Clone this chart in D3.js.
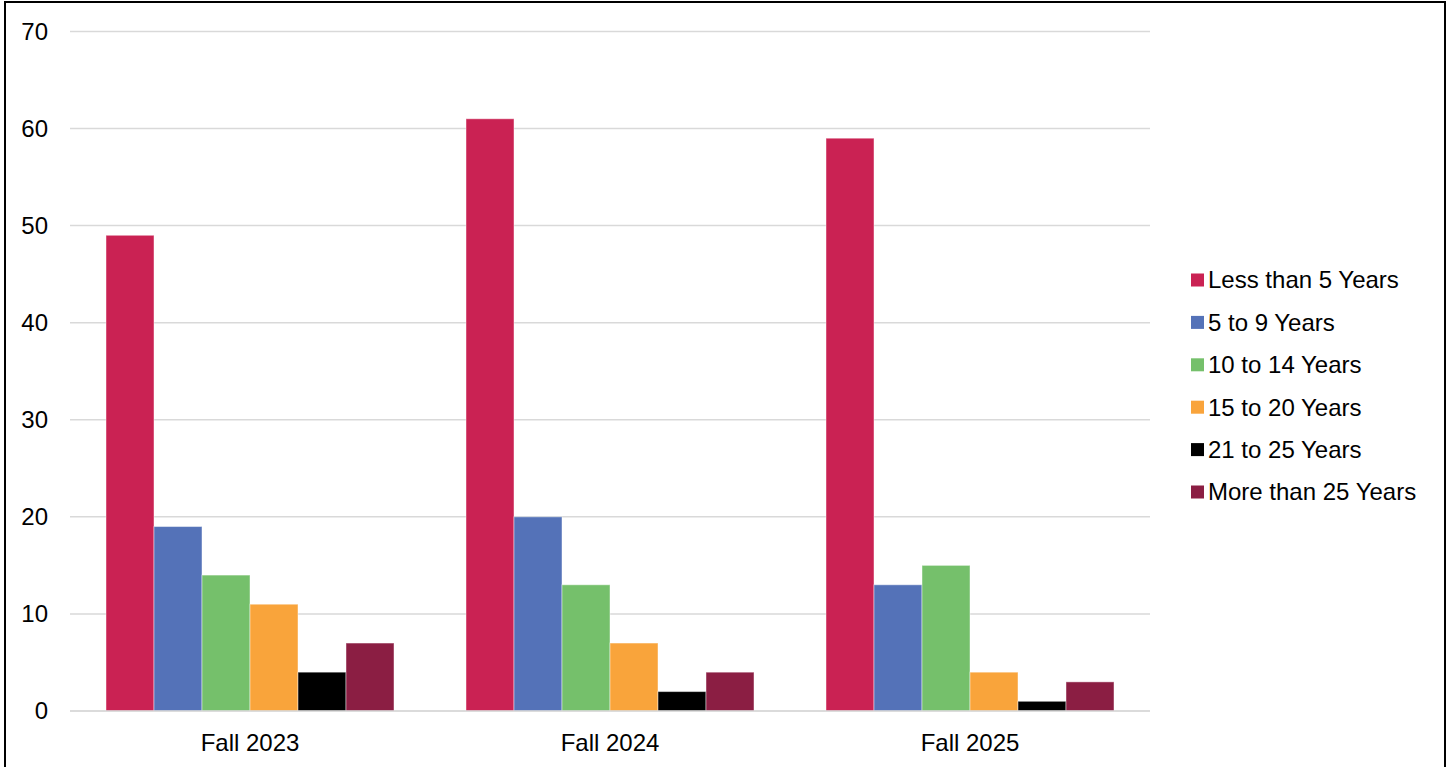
<!DOCTYPE html>
<html><head><meta charset="utf-8">
<script src="https://cdn.jsdelivr.net/npm/d3@7"></script>
<style>html,body{margin:0;padding:0;background:#fff;overflow:hidden}svg{display:block}</style>
</head><body>
<script>
const categories = ["Fall 2023", "Fall 2024", "Fall 2025"];
const seriesNames = ["Less than 5 Years", "5 to 9 Years", "10 to 14 Years", "15 to 20 Years", "21 to 25 Years", "More than 25 Years"];
const lessThan5 = [49, 61, 59];
const from5to9 = [19, 20, 13];
const from10to14 = [14, 13, 15];
const from15to20 = [11, 7, 4];
const from21to25 = [4, 2, 1];
const moreThan25 = [7, 4, 3];
const colors = ["#CA2253", "#5472B8", "#75C06B", "#F9A43B", "#000000", "#8B1E43"];
const yTicks = [0, 10, 20, 30, 40, 50, 60, 70];

const series = [lessThan5, from5to9, from10to14, from15to20, from21to25, moreThan25];
const W = 1449, H = 767;
const svg = d3.select("body").append("svg").attr("width", W).attr("height", H);
svg.append("rect").attr("width", W).attr("height", H).attr("fill", "#fff");

const x0 = d3.scaleBand().domain(categories).range([70, 1150]).paddingInner(0.2).paddingOuter(0.1);
const x1 = d3.scaleBand().domain(d3.range(seriesNames.length)).range([0, x0.bandwidth()]);
const y = d3.scaleLinear().domain([0, 70]).range([711, 31.4]);
const font = "'Liberation Sans', Arial, sans-serif";
const fs = 24;

// gridlines
svg.append("g").selectAll("line").data(yTicks).join("line")
  .attr("x1", 70).attr("x2", 1150)
  .attr("y1", d => y(d)).attr("y2", d => y(d))
  .attr("stroke", "#d9d9d9").attr("stroke-width", 1.5);

// y labels
svg.append("g").selectAll("text").data(yTicks).join("text")
  .attr("x", 48).attr("y", d => y(d)).attr("dy", "0.35em")
  .attr("text-anchor", "end").attr("font-family", font).attr("font-size", fs)
  .attr("fill", "#000").text(d => d);

// bars
const groups = svg.append("g").selectAll("g").data(categories).join("g")
  .attr("transform", d => `translate(${x0(d)},0)`);
groups.selectAll("rect").data((c, ci) => series.map((s, si) => ({si, v: s[ci]}))).join("rect")
  .attr("x", d => x1(d.si)).attr("width", x1.bandwidth())
  .attr("y", d => y(d.v)).attr("height", d => y(0) - y(d.v))
  .attr("fill", d => colors[d.si])
  .attr("stroke", "rgba(255,255,255,0.45)").attr("stroke-width", 1);

// x axis line
svg.append("line").attr("x1", 70).attr("x2", 1150).attr("y1", y(0)).attr("y2", y(0))
  .attr("stroke", "#d9d9d9").attr("stroke-width", 1.5);

// x labels
svg.append("g").selectAll("text").data(categories).join("text")
  .attr("x", d => x0(d) + x0.bandwidth() / 2).attr("y", 743).attr("dy", "0.35em")
  .attr("text-anchor", "middle").attr("font-family", font).attr("font-size", fs)
  .attr("fill", "#000").text(d => d);

// legend
const lg = svg.append("g").selectAll("g").data(seriesNames).join("g")
  .attr("transform", (d, i) => `translate(1191,${280 + i * 42.4})`);
lg.append("rect").attr("x", 0).attr("y", -6.5).attr("width", 13).attr("height", 13)
  .attr("fill", (d, i) => colors[i]);
lg.append("text").attr("x", 17).attr("y", 0).attr("dy", "0.35em")
  .attr("font-family", font).attr("font-size", fs).attr("fill", "#000").text(d => d);

// border
svg.append("path").attr("d", `M5,${H + 5} V2 H1445 V${H + 5}`)
  .attr("fill", "none").attr("stroke", "#000").attr("stroke-width", 2);
</script>
</body></html>
